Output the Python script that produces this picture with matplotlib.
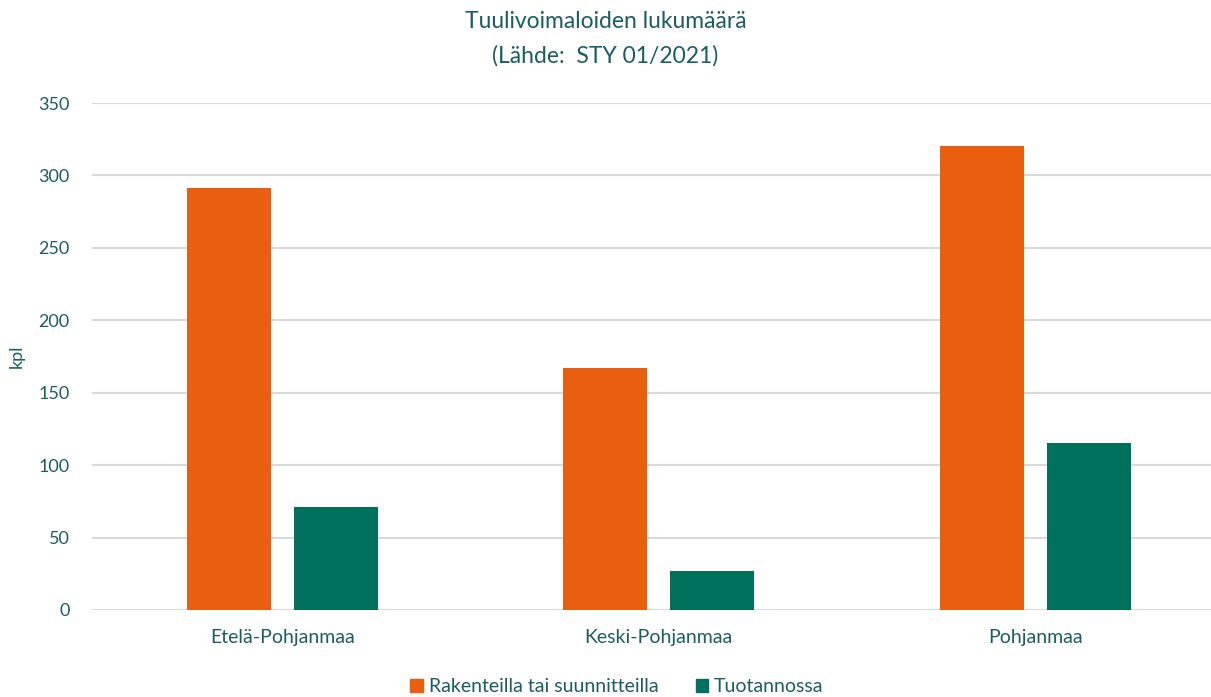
import numpy as np
import matplotlib.pyplot as plt
from matplotlib.patches import Patch

# data
regions = ["Etelä-Pohjanmaa", "Keski-Pohjanmaa", "Pohjanmaa"]
planned = [291, 167, 320]
producing = [71, 27, 115]
series_names = ["Rakenteilla tai suunnitteilla", "Tuotannossa"]

orange = "#E95E0F"
green = "#00715D"
teal = "#1A5E63"
grid = "#D9D9D9"

plt.rcParams['font.family'] = ['Lato', 'DejaVu Sans']


def main():
    fig = plt.figure(figsize=(12.11, 6.97), dpi=100)
    ax = fig.add_axes([92 / 1211, 1 - 610 / 697, 1 - 92 / 1211, (610 - 103) / 697])

    x = np.arange(len(regions))
    w = 0.223
    off = 0.142
    ax.bar(x - off, planned, w, color=orange, zorder=3)
    ax.bar(x + off, producing, w, color=green, zorder=3)

    ax.set_ylim(0, 350)
    ax.set_xlim(-0.505, 2.466)
    ax.set_yticks(range(0, 351, 50))
    ax.set_xticks(x)
    ax.set_xticklabels(regions)
    ax.yaxis.grid(True, color=grid, linewidth=1.5, zorder=0)
    for s in ax.spines.values():
        s.set_visible(False)
    ax.tick_params(axis='both', length=0, colors=teal)
    ax.tick_params(axis='y', pad=16, labelsize=13)
    ax.tick_params(axis='x', pad=14, labelsize=14)
    ax.set_ylabel("kpl", color=teal, fontsize=13)
    ax.yaxis.set_label_coords(-0.06, 0.5)

    fig.text(0.5, 1 - 21 / 697, "Tuulivoimaloiden lukumäärä", ha='center', va='center',
             color=teal, fontsize=16.5)
    fig.text(0.5, 1 - 56 / 697, "(Lähde:  STY 01/2021)", ha='center', va='center',
             color=teal, fontsize=16.5)

    handles = [Patch(color=orange), Patch(color=green)]
    fig.legend(handles, series_names, loc='center', bbox_to_anchor=(617 / 1211, 1 - 687 / 697),
               ncol=2, frameon=False, fontsize=14, labelcolor=teal,
               handlelength=0.65, handleheight=0.65, handletextpad=0.3, columnspacing=1.9)

    fig.savefig("out.png", dpi=100)
    plt.close(fig)


if __name__ == '__main__':
    main()
